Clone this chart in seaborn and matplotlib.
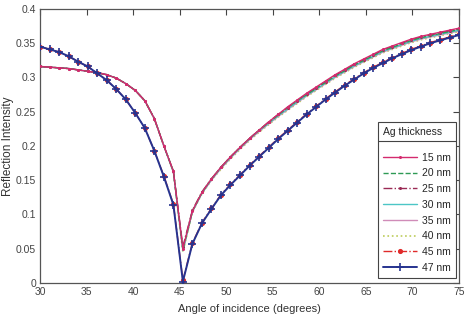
import matplotlib
matplotlib.use("Agg")
import matplotlib.pyplot as plt
import seaborn as sns
from matplotlib.lines import Line2D
from matplotlib.transforms import IdentityTransform

# angle grid (degrees), 45 samples from 30 to 75
angles = [30.00, 31.02, 32.05, 33.07, 34.09, 35.11, 36.14, 37.16, 38.18, 39.20,
          40.23, 41.25, 42.27, 43.30, 44.32, 45.34, 46.36, 47.39, 48.41, 49.43,
          50.45, 51.48, 52.50, 53.52, 54.55, 55.57, 56.59, 57.61, 58.64, 59.66,
          60.68, 61.70, 62.73, 63.75, 64.77, 65.80, 66.82, 67.84, 68.86, 69.89,
          70.91, 71.93, 72.95, 73.98, 75.00]

r15 = [0.316, 0.315, 0.314, 0.313, 0.311, 0.309, 0.307, 0.304, 0.299, 0.291,
       0.281, 0.266, 0.240, 0.200, 0.163, 0.050, 0.105, 0.132, 0.152, 0.169,
       0.184, 0.198, 0.211, 0.223, 0.235, 0.246, 0.257, 0.267, 0.277, 0.286,
       0.295, 0.304, 0.312, 0.320, 0.327, 0.334, 0.341, 0.346, 0.351, 0.356,
       0.360, 0.363, 0.366, 0.369, 0.372]
r20 = [0.316, 0.315, 0.314, 0.313, 0.311, 0.309, 0.307, 0.304, 0.299, 0.291,
       0.281, 0.266, 0.240, 0.200, 0.163, 0.048, 0.105, 0.132, 0.152, 0.169,
       0.184, 0.198, 0.211, 0.223, 0.234, 0.245, 0.256, 0.266, 0.275, 0.284,
       0.293, 0.302, 0.310, 0.318, 0.325, 0.332, 0.339, 0.344, 0.349, 0.354,
       0.358, 0.361, 0.364, 0.367, 0.370]
r25 = [0.316, 0.315, 0.314, 0.313, 0.311, 0.309, 0.307, 0.304, 0.299, 0.291,
       0.281, 0.266, 0.240, 0.200, 0.163, 0.053, 0.106, 0.133, 0.152, 0.169,
       0.184, 0.198, 0.211, 0.223, 0.235, 0.246, 0.256, 0.266, 0.276, 0.285,
       0.294, 0.303, 0.311, 0.319, 0.326, 0.333, 0.340, 0.345, 0.350, 0.355,
       0.359, 0.362, 0.365, 0.368, 0.371]
r30 = [0.316, 0.315, 0.314, 0.313, 0.311, 0.309, 0.307, 0.304, 0.299, 0.291,
       0.281, 0.266, 0.240, 0.200, 0.162, 0.047, 0.104, 0.131, 0.151, 0.168,
       0.183, 0.197, 0.210, 0.222, 0.233, 0.244, 0.254, 0.264, 0.274, 0.283,
       0.292, 0.301, 0.309, 0.317, 0.324, 0.331, 0.338, 0.343, 0.348, 0.353,
       0.357, 0.360, 0.363, 0.366, 0.369]
r35 = [0.316, 0.315, 0.314, 0.313, 0.311, 0.309, 0.307, 0.304, 0.299, 0.291,
       0.281, 0.266, 0.240, 0.200, 0.162, 0.049, 0.104, 0.131, 0.150, 0.167,
       0.182, 0.196, 0.209, 0.221, 0.232, 0.243, 0.253, 0.263, 0.273, 0.282,
       0.291, 0.300, 0.308, 0.316, 0.323, 0.330, 0.337, 0.342, 0.347, 0.352,
       0.356, 0.359, 0.362, 0.365, 0.368]
r40 = [0.316, 0.315, 0.314, 0.313, 0.311, 0.309, 0.307, 0.304, 0.299, 0.291,
       0.281, 0.266, 0.240, 0.200, 0.162, 0.045, 0.103, 0.130, 0.150, 0.166,
       0.181, 0.195, 0.208, 0.220, 0.231, 0.242, 0.252, 0.262, 0.272, 0.281,
       0.290, 0.299, 0.307, 0.315, 0.322, 0.329, 0.336, 0.341, 0.346, 0.351,
       0.355, 0.358, 0.361, 0.364, 0.367]
r45 = [0.345, 0.341, 0.337, 0.331, 0.323, 0.316, 0.306, 0.296, 0.283, 0.268,
       0.248, 0.226, 0.193, 0.156, 0.115, 0.004, 0.058, 0.088, 0.109, 0.129,
       0.144, 0.158, 0.172, 0.185, 0.198, 0.211, 0.223, 0.235, 0.247, 0.258,
       0.269, 0.279, 0.289, 0.298, 0.307, 0.315, 0.322, 0.329, 0.335, 0.341,
       0.346, 0.351, 0.355, 0.359, 0.363]
r47 = [0.345, 0.341, 0.337, 0.331, 0.323, 0.316, 0.306, 0.296, 0.283, 0.268,
       0.248, 0.226, 0.193, 0.155, 0.114, 0.002, 0.057, 0.087, 0.108, 0.128,
       0.143, 0.157, 0.171, 0.184, 0.197, 0.210, 0.222, 0.234, 0.246, 0.257,
       0.268, 0.278, 0.288, 0.297, 0.306, 0.314, 0.321, 0.328, 0.334, 0.340,
       0.345, 0.350, 0.354, 0.358, 0.362]

labels = ["15 nm", "20 nm", "25 nm", "30 nm", "35 nm", "40 nm", "45 nm", "47 nm"]
series = [r15, r20, r25, r30, r35, r40, r45, r47]
colors = ["#d42a6e", "#2e9a55", "#9a2a55", "#4cc6c6", "#d08cb8", "#bccc5a", "#e02a2a", "#26338f"]

# matlab-ish line styles
styles = [
    dict(linestyle="-", marker=".", ms=2, lw=1.0, zorder=8),
    dict(linestyle="--", marker="", lw=1.0, zorder=7),
    dict(linestyle="-.", marker=".", ms=2, lw=1.0, zorder=6),
    dict(linestyle="-", marker="", lw=1.0, zorder=5),
    dict(linestyle="-", marker="", lw=1.0, zorder=4),
    dict(linestyle=":", marker="", lw=1.2, zorder=3),
    dict(linestyle="-.", marker="o", ms=2.5, lw=1.0, zorder=9),
    dict(linestyle="-", marker="+", ms=6, lw=1.4, zorder=10),
]

sns.set_theme(style="white")
plt.rcParams["font.family"] = ["Liberation Sans", "DejaVu Sans"]

fig, ax = plt.subplots(figsize=(4.66, 3.2), dpi=100)
fig.subplots_adjust(left=0.086, right=0.985, top=0.972, bottom=0.116)

for lab, vals, col, st in zip(labels, series, colors, styles):
    sns.lineplot(x=angles, y=vals, ax=ax, label=lab, color=col,
                 markeredgecolor=col, markerfacecolor=col, markeredgewidth=1.2, **st)

ax.set_xlim(30, 75)
ax.set_ylim(0, 0.4)
ax.set_xticks(range(30, 80, 5))
ax.set_yticks([0, 0.05, 0.1, 0.15, 0.2, 0.25, 0.3, 0.35, 0.4])
ax.set_yticklabels(["0", "0.05", "0.1", "0.15", "0.2", "0.25", "0.3", "0.35", "0.4"])
ax.tick_params(direction="in", top=True, right=True, length=4, width=0.8,
               colors="#444444", labelsize=7.5, pad=3)
for sp in ax.spines.values():
    sp.set_color("#555555")
    sp.set_linewidth(0.9)

ax.set_xlabel("Angle of incidence (degrees)", fontsize=8, color="#333333", labelpad=5)
ax.set_ylabel("Reflection Intensity", fontsize=8.5, color="#333333", labelpad=1.5)

leg = ax.legend(title="Ag thickness", loc="lower right", bbox_to_anchor=(0.993, 0.018),
                fontsize=7.5, title_fontsize=7.5, alignment="left",
                frameon=True, fancybox=False, framealpha=1, edgecolor="#444444",
                handlelength=3.2, handletextpad=0.5, labelspacing=0.55,
                borderpad=0.5, borderaxespad=0)
leg.get_frame().set_linewidth(0.8)
# a bit more room between the title and the entries
leg._legend_box.sep = 11

# separator line under the legend title
fig.canvas.draw()
renderer = fig.canvas.get_renderer()
lb = leg.get_window_extent(renderer)
tb = leg.get_title().get_window_extent(renderer)
ysep = tb.y0 - 4
fig.add_artist(Line2D([lb.x0, lb.x1], [ysep, ysep], transform=IdentityTransform(),
                      color="#444444", lw=0.8, zorder=20))

fig.savefig("out.png", dpi=100)
